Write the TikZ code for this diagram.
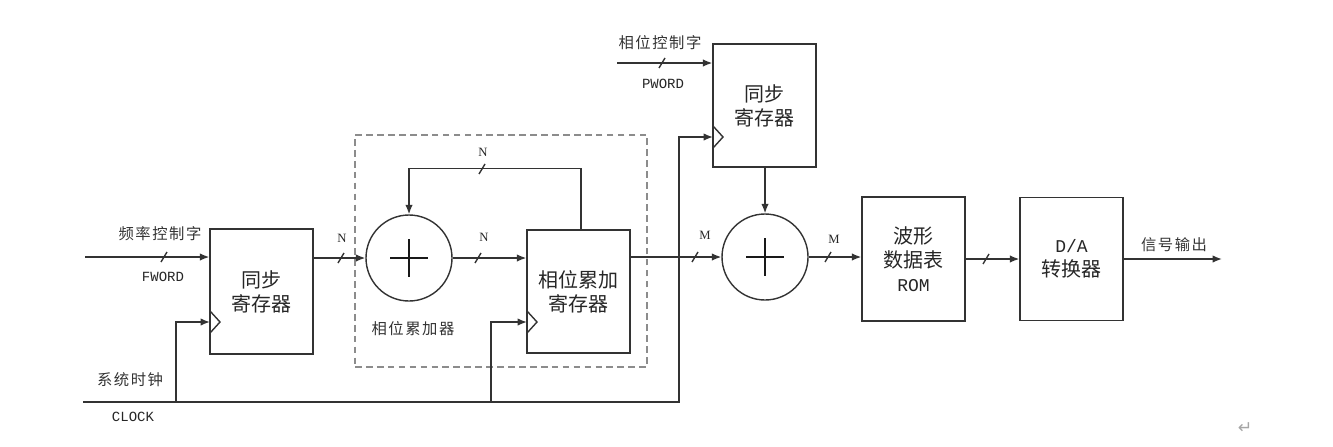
\documentclass[tikz,border=0pt]{standalone}
\usepackage{fontspec}
\setmainfont{Liberation Serif}
\newfontfamily\cjk{Noto Sans CJK SC}
\newfontfamily\cjkspaced[LetterSpace=10]{Noto Sans CJK SC}
\newfontfamily\monofam{Liberation Mono}
\newfontfamily\symfam{DejaVu Sans}
\usetikzlibrary{arrows.meta}
\begin{document}
\begin{tikzpicture}[x=0.75pt,y=-0.75pt,
  wire/.style={line width=1.05pt,draw=black!80},
  arr/.style={-{Latex[length=7pt,width=5.5pt]}},
  regbox/.style={draw=black!80,line width=1.05pt,inner sep=0pt,align=center,
    font=\cjk\fontsize{15}{18}\selectfont,text=black!85},
  adder/.style={circle,draw=black!80,line width=1.05pt,minimum size=64.5pt,inner sep=0pt},
  cjklabel/.style={font=\cjkspaced\fontsize{11.5}{13}\selectfont,text=black!80},
  monolabel/.style={font=\monofam\fontsize{10.5}{12}\selectfont,text=black!85},
  buswidth/.style={font=\fontsize{9.5}{11}\selectfont,text=black!85},
  busmark/.pic={\draw[wire] (-3,5) -- (3,-5);},
  clocktri/.pic={\draw[wire] (0,-11) -- (10,0) -- (0,11);},
  plussign/.pic={\draw[line width=2pt,draw=black!90] (-19,0) -- (19,0) (0,-19) -- (0,19);}
]
\useasboundingbox (0,0) rectangle (1333,446);

% accumulator enclosure
\node[draw=black!45,line width=1.1pt,dash pattern=on 5pt off 3.2pt,
  minimum width=219pt,minimum height=174pt,inner sep=0pt]
  (accgroup) at (501,251) {};

% registers and tables
\node[regbox,minimum width=77.25pt,minimum height=93.75pt] (s1) at (261.5,291.5) {同步\\寄存器};
\node[regbox,minimum width=77.25pt,minimum height=92.25pt] (acc) at (578.5,291.5) {相位累加\\寄存器};
\node[regbox,minimum width=77.25pt,minimum height=92.25pt] (s2) at (764.5,105.5) {同步\\寄存器};
\node[regbox,minimum width=77.25pt,minimum height=93pt] (rom) at (913.5,259) {波形\\数据表\\{\monofam\fontsize{13.5}{18}\selectfont ROM}};
\node[regbox,minimum width=77.25pt,minimum height=92.25pt] (da) at (1071.5,259) {{\monofam\fontsize{13.5}{18}\selectfont D/A}\\转换器};

% adders
\node[adder] (a1) at (409,258) {};
\node[adder] (a2) at (765,257) {};
\pic at (a1.center) {plussign};
\pic at (a2.center) {plussign};

% clock marks on the registers
\coordinate (s1clk) at (210,322);
\coordinate (accclk) at (527,322);
\coordinate (s2clk) at (713,137);
\pic at (s1clk) {clocktri};
\pic at (accclk) {clocktri};
\pic at (s2clk) {clocktri};

% external inputs and output
\coordinate (fin) at (85,257);
\coordinate (pin) at (617,63);
\coordinate (clkin) at (83,402);
\coordinate (clkbend) at (679,402);
\coordinate (tap1) at (176,402);
\coordinate (tap2) at (491,402);
\coordinate (sigout) at (1222,259);

% data path
\draw[wire,arr] (fin) -- (fin -| s1.west);
\draw[wire,arr] (s1.east |- a1.west) -- (a1.west);
\draw[wire,arr] (a1.east) -- (a1.east -| acc.west);
\draw[wire,arr] (acc.north -| 581,0) -- ++(0,-61) -| (a1.north);
\draw[wire,arr] (acc.east |- a2.west) -- (a2.west);
\draw[wire,arr] (pin) -- (pin -| s2.west);
\draw[wire,arr] (s2.south -| a2.north) -- (a2.north);
\draw[wire,arr] (a2.east) -- (a2.east -| rom.west);
\draw[wire,arr] (rom.east) -- (da.west);
\draw[wire,arr] (da.east) -- (sigout);

% clock distribution
\draw[wire,arr] (clkin) -- (clkbend) |- (s2clk);
\draw[wire,arr] (tap1) |- (s1clk);
\draw[wire,arr] (tap2) |- (accclk);

% bus width marks
\pic at (164,257) {busmark};
\pic at (341,258) {busmark};
\pic at (482,169) {busmark};
\pic at (478,258) {busmark};
\pic at (695,257) {busmark};
\pic at (662,63) {busmark};
\pic at (828,257) {busmark};
\pic at (986,259) {busmark};

% labels
\node[cjklabel] (lfw) at (160,234) {频率控制字};
\node[monolabel] (lfword) at (163,277) {FWORD};
\node[cjklabel] (lclk) at (130,380) {系统时钟};
\node[monolabel] (lclock) at (133,417) {CLOCK};
\node[cjklabel] (lpw) at (660,43) {相位控制字};
\node[monolabel] (lpword) at (663,84) {PWORD};
\node[cjklabel] (lacc) at (413,329) {相位累加器};
\node[cjklabel] (lout) at (1174,245) {信号输出};
\node[buswidth] (n1) at (342,238) {N};
\node[buswidth] (n2) at (483,152) {N};
\node[buswidth] (n3) at (484,237) {N};
\node[buswidth] (m1) at (705,235) {M};
\node[buswidth] (m2) at (834,239) {M};
\node[font=\symfam\fontsize{13}{14}\selectfont,text=black!35] (para) at (1245,428) {↵};
\end{tikzpicture}
\end{document}
